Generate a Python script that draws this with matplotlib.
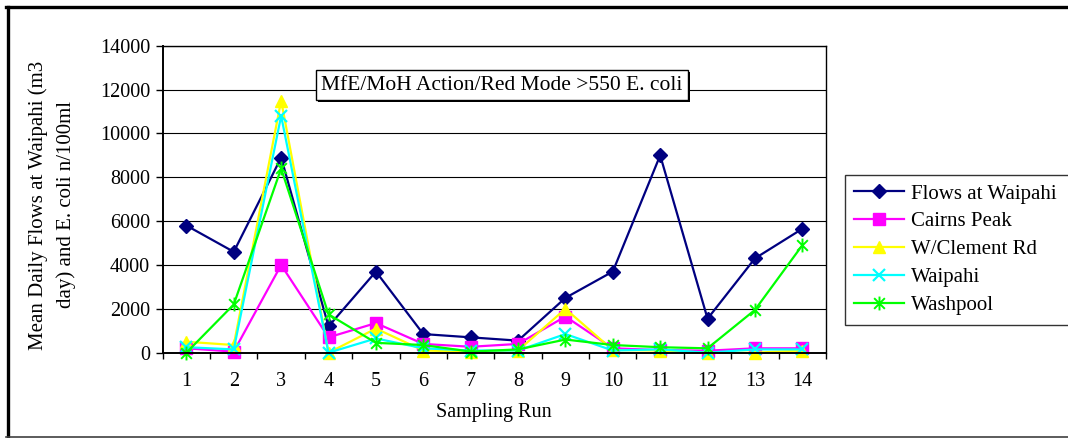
import matplotlib.pyplot as plt
import numpy as np
from matplotlib.path import Path
from matplotlib.patches import Rectangle

plt.rcParams['font.family'] = ['Liberation Serif', 'DejaVu Serif']

# Sampling runs and series values
runs = list(range(1, 15))
flows_waipahi = [5800, 4600, 8900, 1200, 3700, 850, 700, 550, 2500, 3700, 9000, 1550, 4300, 5650]
cairns_peak = [200, 50, 4000, 700, 1350, 400, 270, 400, 1650, 200, 120, 90, 200, 200]
clement_rd = [500, 350, 11500, 0, 1100, 100, 50, 100, 2000, 120, 100, 0, 0, 100]
waipahi = [250, 150, 10800, 0, 650, 200, 100, 100, 850, 100, 150, 0, 150, 150]
washpool = [0, 2200, 8400, 1750, 450, 350, 50, 150, 600, 350, 250, 200, 1950, 4900]

series_names = ["Flows at Waipahi", "Cairns Peak", "W/Clement Rd", "Waipahi", "Washpool"]
y_ticks = [0, 2000, 4000, 6000, 8000, 10000, 12000, 14000]

# Excel style asterisk: x plus a vertical bar
asterisk = Path(
    [(-1, -1), (1, 1), (-1, 1), (1, -1), (0, -1.3), (0, 1.3)],
    [Path.MOVETO, Path.LINETO, Path.MOVETO, Path.LINETO, Path.MOVETO, Path.LINETO],
)

styles = [
    dict(color='#000080', marker='D', ms=7),
    dict(color='#FF00FF', marker='s', ms=8),
    dict(color='#FFFF00', marker='^', ms=9),
    dict(color='#00FFFF', marker='x', ms=8, mew=1.6),
    dict(color='#00FF00', marker=asterisk, ms=10, mew=1.4),
]

FS = 14.5

W, H = 1068, 438
fig = plt.figure(figsize=(W / 100, H / 100), dpi=100)
ax = fig.add_axes([162.7 / W, 1 - 352.7 / H, (826 - 162.7) / W, (352.7 - 45.7) / H])

all_series = [flows_waipahi, cairns_peak, clement_rd, waipahi, washpool]
for name, vals, st in zip(series_names, all_series, styles):
    ax.plot(runs, vals, label=name, lw=1.6, color=st['color'], marker=st['marker'],
            ms=st['ms'], mec=st['color'], mfc=st['color'], mew=st.get('mew', 1.0),
            clip_on=False)

ax.set_xlim(0.5, 14.5)
ax.set_ylim(0, 14000)
ax.set_yticks(y_ticks)
ax.set_yticklabels([str(v) for v in y_ticks])
ax.set_xticks(runs)
ax.set_xticklabels([str(r) for r in runs])
ax.set_xticks(np.arange(0.5, 15, 1), minor=True)
ax.tick_params(axis='x', which='major', length=0, pad=14, labelsize=FS)
ax.tick_params(axis='x', which='minor', length=4, width=1, direction='out')
ax.tick_params(axis='y', length=5, width=1, direction='out', pad=4, labelsize=FS)
ax.grid(axis='y', color='black', lw=0.8)
ax.set_axisbelow(True)
for sp in ax.spines.values():
    sp.set_linewidth(1.0)
ax.spines['left'].set_linewidth(1.4)
ax.spines['bottom'].set_linewidth(1.4)

fig.text(52 / W, 1 - 205 / H, "Mean Daily Flows at Waipahi (m3\nday) and E. coli n/100ml",
         rotation=90, ha='center', va='center', fontsize=15, linespacing=1.6)
fig.text(494 / W, 1 - 412 / H, "Sampling Run", ha='center', va='center', fontsize=FS)

# Text box with drop shadow
bx0, by0, bx1, by1 = 316, 70, 688, 100
fig.patches.append(Rectangle((bx0 / W + 2 / W, 1 - by1 / H - 2 / H), (bx1 - bx0) / W, (by1 - by0) / H,
                             transform=fig.transFigure, facecolor='black', edgecolor='none', zorder=5))
fig.patches.append(Rectangle((bx0 / W, 1 - by1 / H), (bx1 - bx0) / W, (by1 - by0) / H,
                             transform=fig.transFigure, facecolor='white', edgecolor='black',
                             lw=1.0, zorder=6))
fig.text((bx0 + bx1) / 2 / W, 1 - (by0 + by1) / 2 / H, "MfE/MoH Action/Red Mode >550 E. coli",
         ha='center', va='center', fontsize=15.5, zorder=7)

leg = fig.legend(loc='upper left', bbox_to_anchor=(845 / W, 1 - 179 / H, 240 / W, 0.01),
                 mode='expand', frameon=True, fancybox=False, fontsize=15,
                 handlelength=2.4, handletextpad=0.3, labelspacing=0.4,
                 borderpad=0.45, borderaxespad=0)
leg.get_frame().set_edgecolor('black')
leg.get_frame().set_linewidth(1.0)

# Outer chart border
fig.add_artist(plt.Line2D([7.5 / W, 7.5 / W], [1 - 7 / H, 1 - 437 / H], transform=fig.transFigure,
                          color='black', lw=2.4))
fig.add_artist(plt.Line2D([6 / W, 1], [1 - 6.5 / H, 1 - 6.5 / H], transform=fig.transFigure,
                          color='black', lw=2.4))
fig.add_artist(plt.Line2D([6 / W, 1], [1 - 437 / H, 1 - 437 / H], transform=fig.transFigure,
                          color='#404040', lw=1.2))

fig.savefig("out.png", dpi=100)
